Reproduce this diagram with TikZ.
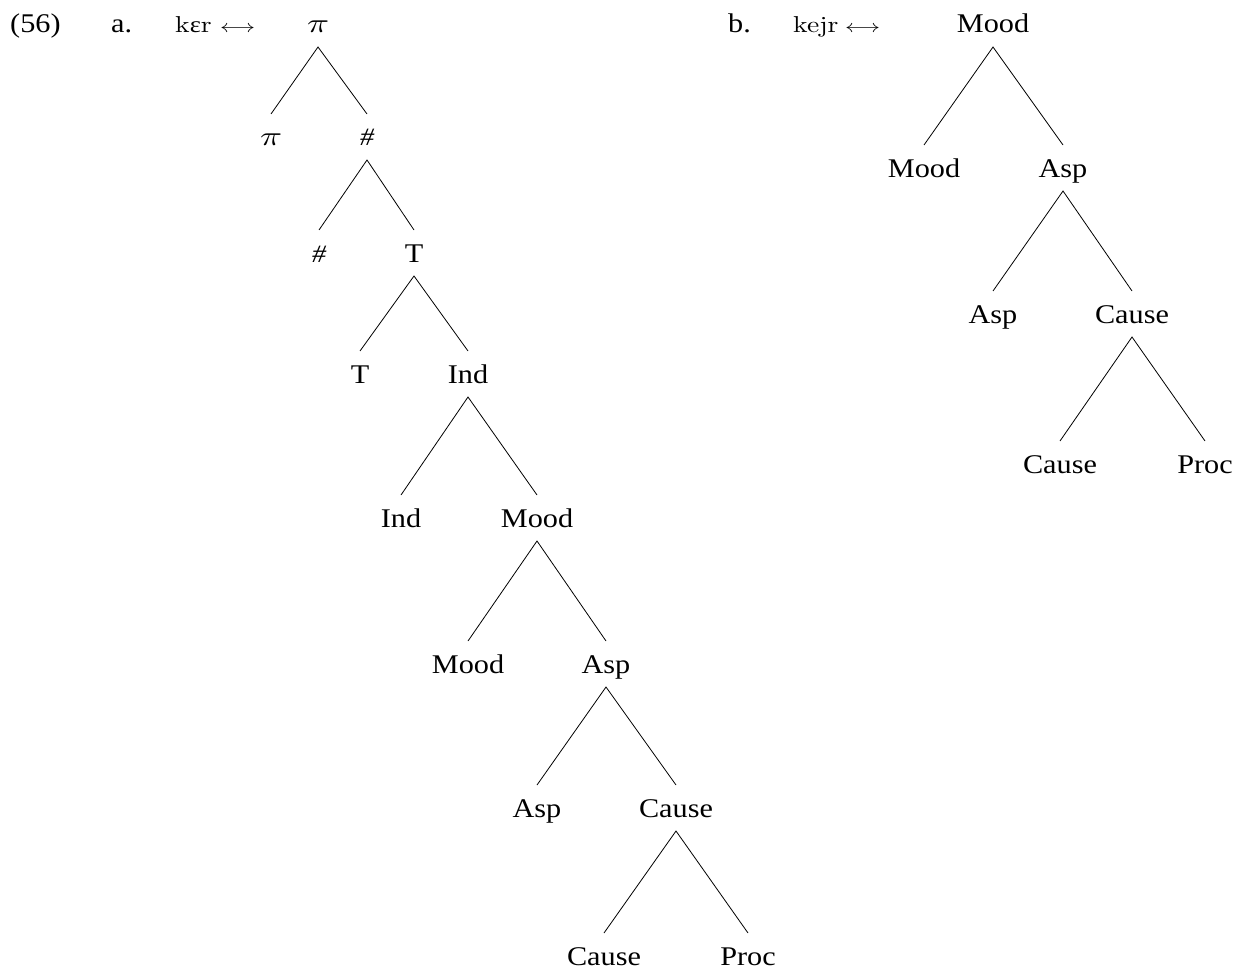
\documentclass[tikz,border=0pt]{standalone}
\usepackage{fontspec}
\newfontfamily\lab[FakeStretch=1.12]{Liberation Serif}
\newfontfamily\ipa[FakeStretch=1.15]{Liberation Serif}
\newfontfamily\cmw[FakeStretch=1.2]{lmroman10-regular.otf}
\newfontfamily\lmm[FakeStretch=1.35]{latinmodern-math.otf}
\begin{document}
\begin{tikzpicture}[x=1pt,y=-1pt,
  tn/.style={anchor=base, inner xsep=0pt, inner ysep=14pt, outer sep=0pt,
    text height=18pt, text depth=0pt, font=\lab\fontsize{27}{30}\selectfont},
  hs/.style={tn, font=\lab\itshape\fontsize{25}{29}\selectfont},
  pn/.style={tn, font=\lmm\fontsize{27}{30}\selectfont},
  lbl/.style={anchor=base west, inner sep=0pt, font=\lab\fontsize{27}{30}\selectfont},
  form/.style={anchor=base west, inner sep=0pt, font=\cmw\fontsize{23}{26}\selectfont},
  arr/.style={anchor=base east, inner sep=0pt, font=\lmm\fontsize{18}{20}\selectfont},
  br/.style={line width=0.8pt}]
\useasboundingbox (0,0) rectangle (1244,971);

% labels
\node[lbl] (ex) at (10,33) {(56)};
\node[lbl] (la) at (111,33) {a.};
\node[form] (fa) at (175,33) {k{\ipa ɛ}r};
\node[arr] (aa) at (256,33) {⟷};
\node[lbl] (lb) at (728,33) {b.};
\node[form] (fb) at (793,33) {kejr};
\node[arr] (ab) at (881,33) {⟷};

% tree a
\node[pn] (a0) at (318,33) {𝜋};
\node[pn] (a1l) at (271,146) {𝜋};
\node[hs] (a1r) at (367,146) {\#};
\node[hs] (a2l) at (319,262) {\#};
\node[tn] (a2r) at (414,262) {T};
\node[tn] (a3l) at (360,383) {T};
\node[tn] (a3r) at (468,383) {Ind};
\node[tn] (a4l) at (401,527) {Ind};
\node[tn] (a4r) at (537,527) {Mood};
\node[tn] (a5l) at (468,673) {Mood};
\node[tn] (a5r) at (606,673) {Asp};
\node[tn] (a6l) at (537,817) {Asp};
\node[tn] (a6r) at (676,817) {Cause};
\node[tn] (a7l) at (604,965) {Cause};
\node[tn] (a7r) at (748,965) {Proc};

\draw[br] (a1l.north) -- (a0.south) -- (a1r.north);
\draw[br] (a2l.north) -- (a1r.south) -- (a2r.north);
\draw[br] (a3l.north) -- (a2r.south) -- (a3r.north);
\draw[br] (a4l.north) -- (a3r.south) -- (a4r.north);
\draw[br] (a5l.north) -- (a4r.south) -- (a5r.north);
\draw[br] (a6l.north) -- (a5r.south) -- (a6r.north);
\draw[br] (a7l.north) -- (a6r.south) -- (a7r.north);

% tree b
\node[tn] (b0) at (993,33) {Mood};
\node[tn] (b1l) at (924,177) {Mood};
\node[tn] (b1r) at (1063,177) {Asp};
\node[tn] (b2l) at (993,323) {Asp};
\node[tn] (b2r) at (1132,323) {Cause};
\node[tn] (b3l) at (1060,473) {Cause};
\node[tn] (b3r) at (1205,473) {Proc};

\draw[br] (b1l.north) -- (b0.south) -- (b1r.north);
\draw[br] (b2l.north) -- (b1r.south) -- (b2r.north);
\draw[br] (b3l.north) -- (b2r.south) -- (b3r.north);
\end{tikzpicture}
\end{document}
